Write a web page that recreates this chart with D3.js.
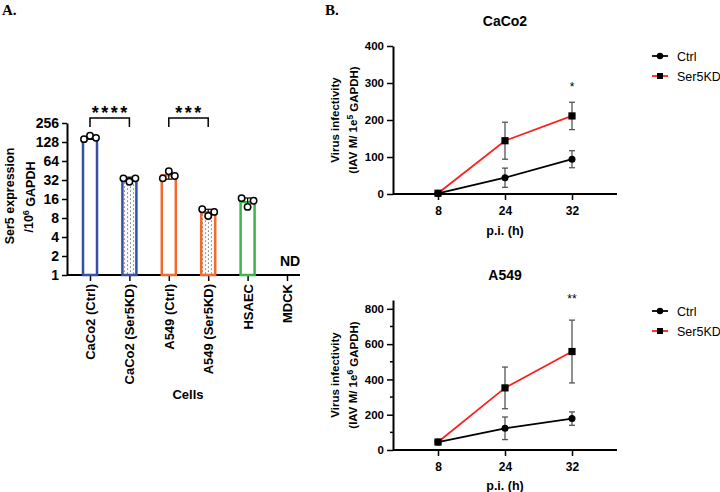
<!DOCTYPE html>
<html>
<head>
<meta charset="utf-8">
<script src="https://cdn.jsdelivr.net/npm/d3@7"></script>
<style>
body { margin: 0; background: #fff; }
svg { font-family: "Liberation Sans", Arial, sans-serif; }
.axis text { font-weight: bold; fill: #000; }
.axis line, .axis path { stroke: #000; }
</style>
</head>
<body>
<script>
// ---- panel A data ----
var cells = ["CaCo2 (Ctrl)", "CaCo2 (Ser5KD)", "A549 (Ctrl)", "A549 (Ser5KD)", "HSAEC", "MDCK"];
var cellColors = ["#3451a6", "#3451a6", "#f26b2d", "#f26b2d", "#3cb64b", "#000"];
var knockdown = [false, true, false, true, false, false];
var ser5Mean = [150, 33, 38, 9.8, 14.3, null];
var ser5Err = [9, 2.5, 5, 1.2, 2.3, null];
var ser5Points = [[142, 161, 149], [34, 30, 34], [34, 44, 37], [11, 8.6, 10], [16.5, 12, 15], []];
var ser5Ticks = [1, 2, 4, 8, 16, 32, 64, 128, 256];
var sigPairs = [{a: 0, b: 1, label: "****"}, {a: 2, b: 3, label: "***"}];

// ---- panel B data ----
var timepoints = ["8", "24", "32"];
var caco2Ctrl = [2, 44, 94], caco2CtrlErr = [1, 26, 23];
var caco2KD = [2, 144, 211], caco2KDErr = [1, 50, 37];
var a549Ctrl = [45, 123, 178], a549CtrlErr = [5, 64, 38];
var a549KD = [45, 352, 558], a549KDErr = [5, 118, 178];
var caco2Ticks = [0, 100, 200, 300, 400];
var a549Ticks = [0, 200, 400, 600, 800];
var a549Minor = [100, 300, 500, 700];

var svg = d3.select("body").append("svg")
    .attr("width", 720)
    .attr("height", 492);

// pattern for knockdown bars
var pat = svg.append("defs").append("pattern")
    .attr("id", "dots")
    .attr("patternUnits", "userSpaceOnUse")
    .attr("width", 6).attr("height", 4);
pat.append("rect").attr("width", 6).attr("height", 4).attr("fill", "#fafafa");
pat.append("circle").attr("cx", 1.5).attr("cy", 1).attr("r", 0.55).attr("fill", "#222");
pat.append("circle").attr("cx", 4.5).attr("cy", 3).attr("r", 0.55).attr("fill", "#222");

// panel letters
svg.append("text").attr("x", 2).attr("y", 15).text("A.")
    .style("font-family", "'Liberation Serif', serif").style("font-weight", "bold").style("font-size", "15px");
svg.append("text").attr("x", 325).attr("y", 15).text("B.")
    .style("font-family", "'Liberation Serif', serif").style("font-weight", "bold").style("font-size", "15px");

// ================= Panel A =================
var yA = d3.scaleLog().base(2).domain([1, 256]).range([275, 123]);
var xA = d3.scalePoint().domain(cells).range([90, 287]);
var axisY0 = 275, axisX0 = 67;

var gyA = svg.append("g").attr("class", "axis")
    .attr("transform", "translate(" + axisX0 + ",0)")
    .call(d3.axisLeft(yA).tickValues(ser5Ticks).tickFormat(d3.format("d")).tickSize(5).tickSizeOuter(0).tickPadding(3));
gyA.selectAll("text").style("font-size", "14px");
gyA.select(".domain").attr("stroke-width", 2);
gyA.selectAll(".tick line").attr("stroke-width", 1.5);

var gxA = svg.append("g").attr("class", "axis")
    .attr("transform", "translate(0," + axisY0 + ")")
    .call(d3.axisBottom(xA).tickSize(6).tickPadding(0));
gxA.select(".domain").remove();
gxA.append("line").attr("x1", axisX0).attr("x2", 300).attr("stroke", "#000").attr("stroke-width", 2);
gxA.selectAll(".tick line").attr("stroke-width", 1.5);
gxA.selectAll("text")
    .attr("transform", "rotate(-90)")
    .attr("text-anchor", "end")
    .attr("x", -9).attr("y", 0).attr("dy", "0.35em")
    .style("font-size", "13px");

var barW = 14;
cells.forEach(function(c, i) {
    if (ser5Mean[i] == null) return;
    var cx = xA(c);
    svg.append("rect")
        .attr("x", cx - barW / 2)
        .attr("y", yA(ser5Mean[i]))
        .attr("width", barW)
        .attr("height", axisY0 - yA(ser5Mean[i]))
        .attr("fill", knockdown[i] ? "url(#dots)" : "#fff")
        .attr("stroke", cellColors[i])
        .attr("stroke-width", 2.5);
    var lo = yA(ser5Mean[i] - ser5Err[i]), hi = yA(ser5Mean[i] + ser5Err[i]);
    svg.append("line").attr("x1", cx).attr("x2", cx).attr("y1", lo).attr("y2", hi).attr("stroke", "#000").attr("stroke-width", 1.2);
    [lo, hi].forEach(function(yy) {
        svg.append("line").attr("x1", cx - 3.5).attr("x2", cx + 3.5).attr("y1", yy).attr("y2", yy).attr("stroke", "#000").attr("stroke-width", 1.2);
    });
    var offs = [-6, 0, 6];
    ser5Points[i].forEach(function(v, j) {
        svg.append("circle")
            .attr("cx", cx + offs[j]).attr("cy", yA(v)).attr("r", 3.2)
            .attr("fill", "#fff").attr("stroke", "#000").attr("stroke-width", 1.5);
    });
});

svg.append("text").attr("x", 280).attr("y", 266).text("ND")
    .style("font-weight", "bold").style("font-size", "14px");

sigPairs.forEach(function(s) {
    var x1 = xA(cells[s.a]), x2 = xA(cells[s.b]);
    svg.append("path")
        .attr("d", "M" + x1 + ",127V118H" + x2 + "V127")
        .attr("fill", "none").attr("stroke", "#000").attr("stroke-width", 1.5);
    svg.append("text")
        .attr("x", (x1 + x2) / 2 + 1).attr("y", 119)
        .attr("text-anchor", "middle")
        .style("font-size", "18px").style("font-weight", "bold").style("letter-spacing", "2.5px")
        .text(s.label);
});

svg.append("text").attr("transform", "translate(14,196) rotate(-90)")
    .attr("text-anchor", "middle")
    .style("font-weight", "bold").style("font-size", "12.5px")
    .text("Ser5 expression");
var lbl2 = svg.append("text").attr("transform", "translate(33,197) rotate(-90)")
    .attr("text-anchor", "middle")
    .style("font-weight", "bold").style("font-size", "12.5px");
lbl2.append("tspan").text("/10");
lbl2.append("tspan").attr("dy", "-0.45em").style("font-size", "9px").text("6");
lbl2.append("tspan").attr("dy", "0.45em").text(" GAPDH");

svg.append("text").attr("x", 188).attr("y", 399).attr("text-anchor", "middle")
    .style("font-weight", "bold").style("font-size", "13px").text("Cells");

// ================= Panel B =================
function drawPanel(opt) {
    var x = d3.scalePoint().domain(timepoints).range([438, 572]);
    var y = d3.scaleLinear().domain(opt.domain).range([opt.y0, opt.y1]);
    var g = svg.append("g");

    var gy = g.append("g").attr("class", "axis")
        .attr("transform", "translate(393,0)")
        .call(d3.axisLeft(y).tickValues(opt.ticks).tickSize(6).tickSizeOuter(0).tickPadding(3));
    gy.selectAll("text").style("font-size", "11.5px");
    gy.select(".domain").attr("stroke-width", 2);
    gy.selectAll(".tick line").attr("stroke-width", 1.5);
    if (opt.minor) {
        g.selectAll(".minor").data(opt.minor).enter().append("line")
            .attr("x1", 390).attr("x2", 393)
            .attr("y1", function(d) { return y(d); }).attr("y2", function(d) { return y(d); })
            .attr("stroke", "#000").attr("stroke-width", 1.5);
    }

    var gx = g.append("g").attr("class", "axis")
        .attr("transform", "translate(0," + opt.y0 + ")")
        .call(d3.axisBottom(x).tickSize(6).tickPadding(6));
    gx.select(".domain").remove();
    gx.append("line").attr("x1", 393).attr("x2", 617).attr("stroke", "#000").attr("stroke-width", 2);
    gx.selectAll(".tick line").attr("stroke-width", 1.5);
    gx.selectAll("text").style("font-size", "12px");

    g.append("text").attr("x", 505).attr("y", opt.titleY).attr("text-anchor", "middle")
        .style("font-weight", "bold").style("font-size", "14px").text(opt.title);
    g.append("text").attr("x", 505).attr("y", opt.xlabY).attr("text-anchor", "middle")
        .style("font-weight", "bold").style("font-size", "12.5px").text("p.i. (h)");

    var yc = (opt.y0 + opt.y1) / 2;
    g.append("text").attr("transform", "translate(339," + yc + ") rotate(-90)")
        .attr("text-anchor", "middle")
        .style("font-weight", "bold").style("font-size", "11.5px")
        .text("Virus infectivity");
    var t2 = g.append("text").attr("transform", "translate(357," + yc + ") rotate(-90)")
        .attr("text-anchor", "middle")
        .style("font-weight", "bold").style("font-size", "11.5px");
    t2.append("tspan").text("(IAV M/ 1e");
    t2.append("tspan").attr("dy", "-0.45em").style("font-size", "8.5px").text(opt.exp);
    t2.append("tspan").attr("dy", "0.45em").text(" GAPDH)");

    var series = [
        {vals: opt.ctrl, err: opt.ctrlErr, color: "#000", shape: "circle"},
        {vals: opt.kd, err: opt.kdErr, color: "#ff1f1f", shape: "square"}
    ];
    var line = d3.line().x(function(d, i) { return x(timepoints[i]); }).y(function(d) { return y(d); });

    series.forEach(function(s) {
        s.vals.forEach(function(v, i) {
            var cx = x(timepoints[i]), lo = y(v - s.err[i]), hi = y(v + s.err[i]);
            g.append("line").attr("x1", cx).attr("x2", cx).attr("y1", lo).attr("y2", hi).attr("stroke", "#555").attr("stroke-width", 1.3);
            [lo, hi].forEach(function(yy) {
                g.append("line").attr("x1", cx - 3).attr("x2", cx + 3).attr("y1", yy).attr("y2", yy).attr("stroke", "#555").attr("stroke-width", 1.3);
            });
        });
    });
    series.forEach(function(s) {
        g.append("path").datum(s.vals).attr("d", line)
            .attr("fill", "none").attr("stroke", s.color).attr("stroke-width", 1.8);
        s.vals.forEach(function(v, i) {
            var cx = x(timepoints[i]), cy = y(v);
            if (s.shape === "circle") {
                g.append("circle").attr("cx", cx).attr("cy", cy).attr("r", 3.5).attr("fill", "#000");
            } else {
                g.append("rect").attr("x", cx - 3.6).attr("y", cy - 3.6).attr("width", 7.2).attr("height", 7.2).attr("fill", "#000");
            }
        });
    });

    g.append("text").attr("x", x("32")).attr("y", opt.starY).attr("text-anchor", "middle")
        .style("font-size", "12px").text(opt.star);

    // legend
    var leg = [{name: "Ctrl", color: "#000", shape: "circle"}, {name: "Ser5KD", color: "#ff1f1f", shape: "square"}];
    leg.forEach(function(l, i) {
        var ly = opt.legY + i * 20;
        g.append("line").attr("x1", 652).attr("x2", 668).attr("y1", ly).attr("y2", ly).attr("stroke", l.color).attr("stroke-width", 1.8);
        if (l.shape === "circle") {
            g.append("circle").attr("cx", 660).attr("cy", ly).attr("r", 3.2).attr("fill", "#000");
        } else {
            g.append("rect").attr("x", 657).attr("y", ly - 3).attr("width", 6).attr("height", 6).attr("fill", "#000");
        }
        g.append("text").attr("x", 677).attr("y", ly + 4.5).style("font-size", "12.5px").text(l.name);
    });
}

drawPanel({
    title: "CaCo2", titleY: 26, xlabY: 235, domain: [0, 400], y0: 194, y1: 46,
    ticks: caco2Ticks, exp: "5",
    ctrl: caco2Ctrl, ctrlErr: caco2CtrlErr, kd: caco2KD, kdErr: caco2KDErr,
    star: "*", starY: 91, legY: 56
});
drawPanel({
    title: "A549", titleY: 280, xlabY: 490, domain: [0, 850], y0: 450, y1: 300,
    ticks: a549Ticks, minor: a549Minor, exp: "6",
    ctrl: a549Ctrl, ctrlErr: a549CtrlErr, kd: a549KD, kdErr: a549KDErr,
    star: "**", starY: 303, legY: 311
});
</script>
</body>
</html>
